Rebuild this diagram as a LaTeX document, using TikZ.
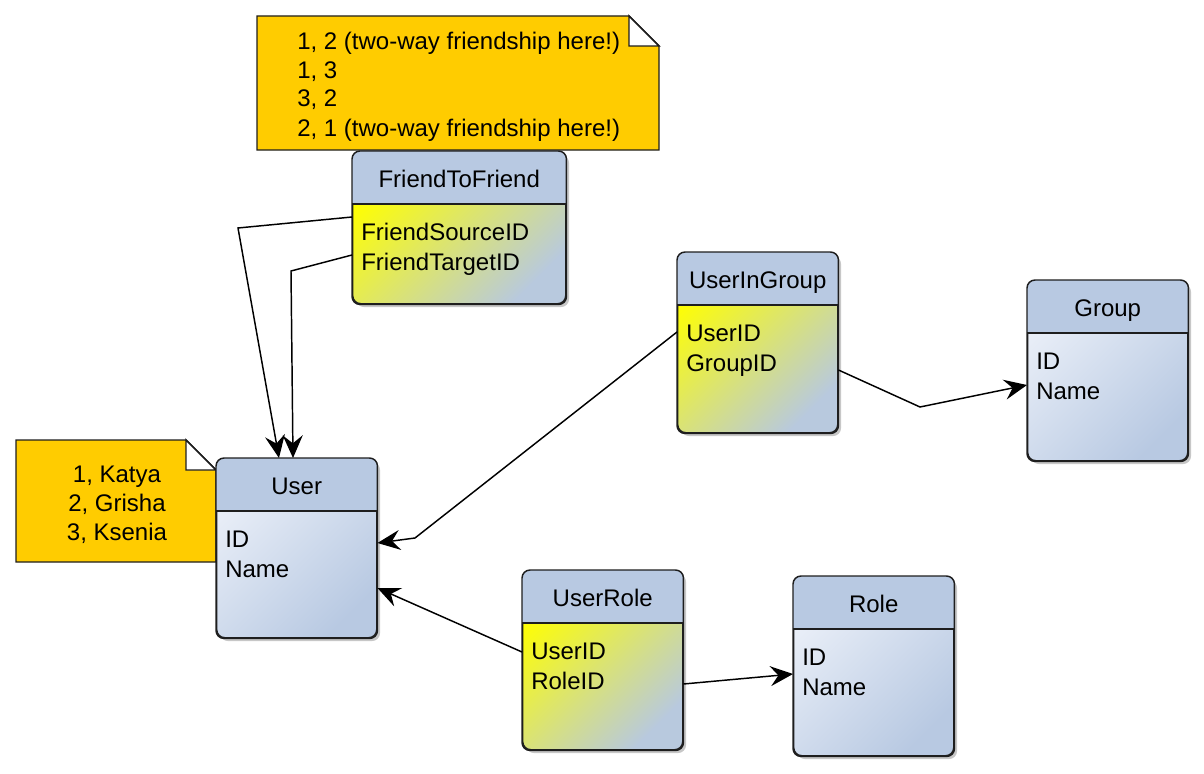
\documentclass[tikz,border=0pt]{standalone}
\usepackage{fontspec}
\setmainfont{Liberation Sans}
\usetikzlibrary{calc,shadows,arrows.meta}
\definecolor{hdr}{RGB}{184,201,226}
\definecolor{bluetl}{RGB}{234,239,248}
\definecolor{bluebr}{RGB}{184,201,226}
\definecolor{yeltl}{RGB}{255,255,0}
\definecolor{yelbr}{RGB}{184,201,222}
\definecolor{notefill}{RGB}{255,204,0}
\definecolor{edge}{RGB}{30,30,30}
\tikzset{
  tbl/.style={rectangle, rounded corners=6pt, draw=edge, line width=1.1pt, inner sep=0pt,
     drop shadow={shadow xshift=2.5pt, shadow yshift=-2.5pt, opacity=0.22, fill=black}},
  bluebody/.style={top color=bluetl, bottom color=bluebr, shading angle=45},
  yelbody/.style={top color=yeltl, bottom color=yelbr, shading angle=45},
  txt/.style={inner sep=0pt, font=\fontsize{18}{21.75}\selectfont},
  notebox/.style={fill=notefill, draw=edge, line width=1.1pt, line join=miter},
  fold/.style={fill=white, draw=edge, line width=1.1pt},
  conn/.style={draw=black, line width=1.1pt, -{Stealth[length=17pt,width=15pt,inset=6pt]}},
}
\newcommand\ertable[9]{%
  \node[tbl,#9,minimum width=#4*0.75pt,minimum height=#5*0.75pt,anchor=north west] (#1) at (#2,#3) {};
  \fill[hdr, rounded corners=6pt] (#1.north west) rectangle ($(#1.north east)+(0,53)$);
  \fill[hdr] ($(#1.north west)+(0,20)$) rectangle ($(#1.north east)+(0,53)$);
  \draw[edge, line width=1.1pt, rounded corners=6pt] (#1.north west) rectangle (#1.south east);
  \draw[edge, line width=1.1pt] ($(#1.north west)+(0,53)$) -- ($(#1.north east)+(0,53)$);
  \node[txt, anchor=base] (#1t) at ($(#1.north)+(0,36)$) {#6};
  \node[txt, anchor=base west] (#1f1) at ($(#1.north west)+(9,89)$) {#7};
  \node[txt, anchor=base west] (#1f2) at ($(#1.north west)+(9,119)$) {#8};
}
\begin{document}
\begin{tikzpicture}[x=0.75pt,y=-0.75pt]
\useasboundingbox (0,0) rectangle (1204,774);

% note 1
\draw[notebox] (257,16) -- (629,16) -- (659,46) -- (659,150) -- (257,150) -- cycle;
\draw[fold] (629,16) -- (629,46) -- (659,46) -- cycle;
\node[txt, anchor=base west] (n1a) at (297,50) {1, 2 (two-way friendship here!)};
\node[txt, anchor=base west] (n1b) at (297,79) {1, 3};
\node[txt, anchor=base west] (n1c) at (297,107) {3, 2};
\node[txt, anchor=base west] (n1d) at (297,137) {2, 1 (two-way friendship here!)};

% note 2
\draw[notebox] (16,440) -- (186,440) -- (216,470) -- (216,562) -- (16,562) -- cycle;
\draw[fold] (186,440) -- (186,470) -- (216,470) -- cycle;
\node[txt, anchor=base] (n2a) at (117,482) {1, Katya};
\node[txt, anchor=base] (n2b) at (117,511) {2, Grisha};
\node[txt, anchor=base] (n2c) at (117,540) {3, Ksenia};

% tables
\ertable{ftf}{352}{151}{213}{152}{FriendToFriend}{FriendSourceID}{FriendTargetID}{yelbody}
\ertable{user}{216}{458}{160}{179}{User}{ID}{Name}{bluebody}
\ertable{uig}{677}{252}{160}{180}{UserInGroup}{UserID}{GroupID}{yelbody}
\ertable{group}{1027}{280}{160}{180}{Group}{ID}{Name}{bluebody}
\ertable{ur}{522}{570}{160}{179}{UserRole}{UserID}{RoleID}{yelbody}
\ertable{role}{793}{576}{160}{179}{Role}{ID}{Name}{bluebody}

% connectors
\coordinate (b1) at (238,228);
\coordinate (b2) at (291,271);
\coordinate (b3) at (415,538);
\coordinate (b5) at (920,407);
\draw[conn] ($(ftf.north west)+(0,66)$) -- (b1) -- ($(user.north west)+(63,0)$);
\draw[conn] ($(ftf.north west)+(0,104)$) -- (b2) -- ($(user.north west)+(77,0)$);
\draw[conn] ($(uig.north west)+(0,80)$) -- (b3) -- ($(user.north east)+(0,85)$);
\draw[conn] ($(ur.north west)+(0,82)$) -- ($(user.north east)+(0,130)$);
\draw[conn] ($(uig.north east)+(0,118)$) -- (b5) -- ($(group.north west)+(0,105)$);
\draw[conn] ($(ur.north east)+(0,114)$) -- ($(role.north west)+(0,98)$);
\end{tikzpicture}
\end{document}
